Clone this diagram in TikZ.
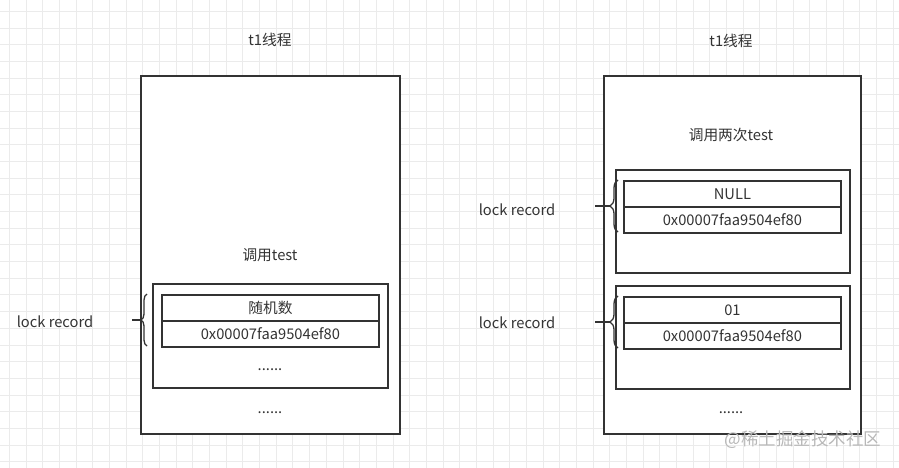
\documentclass[tikz,border=0pt]{standalone}
\usepackage{fontspec}
\newfontfamily\cjk{Noto Sans CJK SC}
\usetikzlibrary{decorations.pathreplacing}
\definecolor{ink}{HTML}{333333}
\definecolor{gridc}{HTML}{EBEBEB}
\definecolor{wm}{HTML}{B8B8B8}
\begin{document}
\begin{tikzpicture}[x=1pt,y=-1pt,
  every node/.style={font=\cjk\fontsize{14.7}{17}\selectfont, text=ink},
  frame/.style={draw=ink, line width=1.8pt, inner sep=0pt, anchor=north west},
  cell/.style={draw=ink, line width=1.8pt, minimum width=217pt, minimum height=26pt, inner sep=0pt, anchor=north west},
  bracestyle/.style={decorate, decoration={brace, amplitude=#1}, draw=ink, line width=1.3pt},
  tick/.style={draw=ink, line width=1.3pt}
]
\fill[white] (0,0) rectangle (899,468);
\useasboundingbox (0,0) rectangle (899,468);
\foreach \i in {0,...,53} \draw[gridc, line width=0.8pt] (9.5+16.67*\i,0) -- (9.5+16.67*\i,468);
\foreach \i in {0,...,27} \draw[gridc, line width=0.8pt] (0,11.5+16.67*\i) -- (899,11.5+16.67*\i);

% ---------- left ----------
\node (Lt) at (270,40) {t1线程};
\node[frame, fill=white, minimum width=259pt, minimum height=358pt] (Lo) at (140,75) {};
\node (Lc) at (270,255) {调用test};
\node[frame, minimum width=235pt, minimum height=104pt] (Li) at (152,283) {};
\node[cell] (Lr1) at (161,294) {随机数};
\node[cell] (Lr2) at (161,320) {0x00007faa9504ef80};
\node (Ld1) at (270,370) {......};
\node (Ld2) at (270,413) {......};
\coordinate (LbB) at (147,346);
\coordinate (LbT) at (147,294);
\draw[bracestyle=6pt] (LbB) -- (LbT);
\coordinate (LbTip) at (141,320);
\coordinate (LbEnd) at (132,320);
\draw[tick] (LbTip) -- (LbEnd);
\node (Ll) at (55,322) {lock record};

% ---------- right ----------
\node (Rt) at (731,41) {t1线程};
\node[frame, fill=white, minimum width=257pt, minimum height=358pt] (Ro) at (603,75) {};
\node (Rc) at (731,135) {调用两次test};
\node[frame, minimum width=234pt, minimum height=103pt] (Ri1) at (615,169) {};
\node[cell] (Ra1) at (623,180) {NULL};
\node[cell] (Ra2) at (623,206) {0x00007faa9504ef80};
\coordinate (RbB1) at (618,232);
\coordinate (RbT1) at (618,180);
\draw[bracestyle=8pt] (RbB1) -- (RbT1);
\coordinate (RbTip1) at (610,206);
\coordinate (RbEnd1) at (595,206);
\draw[tick] (RbTip1) -- (RbEnd1);
\node (Rl1) at (517,210) {lock record};

\node[frame, minimum width=234pt, minimum height=103pt] (Ri2) at (615,285) {};
\node[cell] (Rb1) at (623,296) {01};
\node[cell] (Rb2) at (623,322) {0x00007faa9504ef80};
\coordinate (RbB2) at (618,348);
\coordinate (RbT2) at (618,296);
\draw[bracestyle=8pt] (RbB2) -- (RbT2);
\coordinate (RbTip2) at (610,322);
\coordinate (RbEnd2) at (595,322);
\draw[tick] (RbTip2) -- (RbEnd2);
\node (Rl2) at (517,323) {lock record};
\node (Rd) at (731,413) {......};

\node[text=wm, font=\cjk\fontsize{17.5}{20}\selectfont] (wmk) at (803,440) {@稀土掘金技术社区};
\end{tikzpicture}
\end{document}
